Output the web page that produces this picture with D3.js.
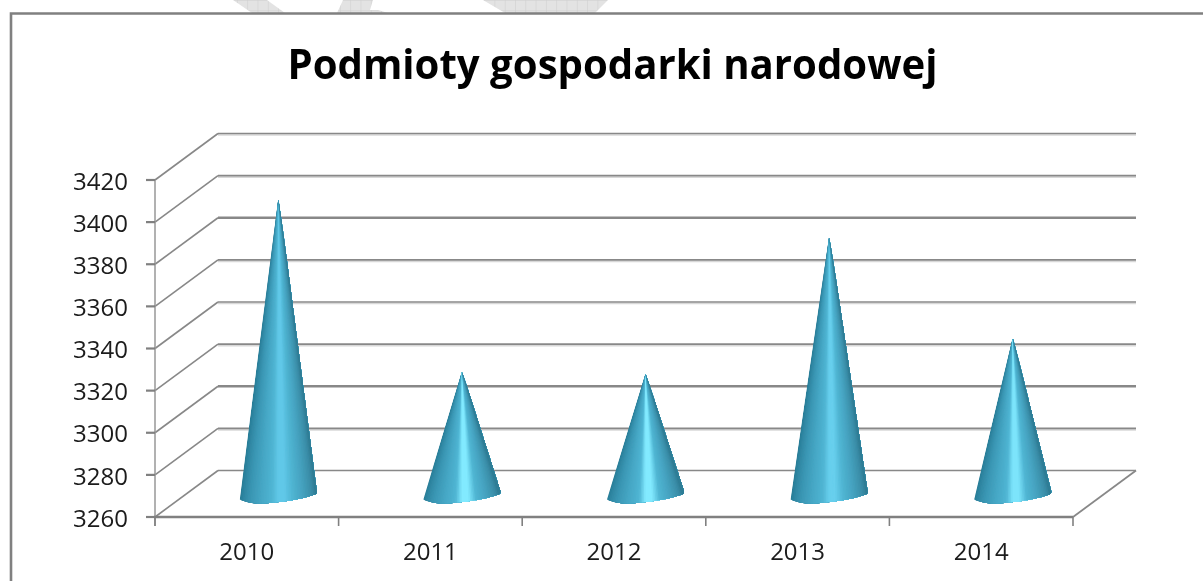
<!DOCTYPE html>
<html><head><meta charset="utf-8">
<script src="https://cdn.jsdelivr.net/npm/d3@7"></script>
<style>html,body{margin:0;padding:0;background:#fff;overflow:hidden}svg{display:block}text{font-family:"Open Sans",sans-serif}</style>
</head><body><svg id="c" width="1203" height="581"></svg>
<script>
const categories = ["2010","2011","2012","2013","2014"];
const values = [3401, 3319, 3318, 3383, 3335];
const yTicks = [3260,3280,3300,3320,3340,3360,3380,3400,3420];
const title = "Podmioty gospodarki narodowej";

const W=1203,H=581;
const svg=d3.select("#c");
const defs=svg.append("defs");
defs.append("filter").attr("id","soft")
  .attr("filterUnits","userSpaceOnUse").attr("x",0).attr("y",0).attr("width",W).attr("height",H)
  .append("feGaussianBlur").attr("stdDeviation",0.45);
const root=svg.append("g").attr("filter","url(#soft)");
root.append("rect").attr("width",W).attr("height",H).attr("fill","#fff");

const x0=155,x1=1073,dx=63,dy=-46.5;
const y=d3.scaleLinear().domain([3260,3420]).range([517,180]);
const x=d3.scaleBand().domain(categories).range([x0,x1]);
const coneDX=31.5,coneDY=-20,halfW=38.5;

// Background watermark showing above the frame
const pat=defs.append("pattern").attr("id","hatch").attr("patternUnits","userSpaceOnUse").attr("width",10.3).attr("height",10.3);
pat.append("rect").attr("width",10.3).attr("height",10.3).attr("fill","#e3e3e3");
pat.append("path").attr("d","M0 0H10.3M0 0V10.3").attr("stroke","#cdcdcd").attr("stroke-width",1);
const line=d3.line();
[[[233,0],[252,13],[285,13],[267,0]],
 [[343,0],[337,13],[388,13],[378,10],[370,10],[373,0]],
 [[483,0],[505,13],[595,13],[608,0]]].forEach(p=>{
  root.append("path").attr("d",line(p)+"Z").attr("fill","url(#hatch)");
});

// Frame (top + left edges visible)
root.append("path").attr("d",`M11 ${H}V13.5H${W}`).attr("fill","none").attr("stroke","#808080").attr("stroke-width",2.6);

// Title
root.append("text").attr("x",612.5).attr("y",79).attr("text-anchor","middle")
  .attr("font-size",41).attr("font-weight",700).attr("fill","#000")
  .attr("textLength",650).attr("lengthAdjust","spacingAndGlyphs").text(title);

const g=root.append("g");
const gridStroke="#888888";

// Gridlines: back wall + left wall
yTicks.forEach(t=>{
  const yy=y(t);
  const heavy=(t===3380||t===3300);
  if(t!==3260&&!heavy){
    g.append("line").attr("x1",x0+dx).attr("x2",x1+dx).attr("y1",yy+dy+1.5).attr("y2",yy+dy+1.5).attr("stroke","#d8d8d8").attr("stroke-width",1.6);
  }
  g.append("line").attr("x1",x0+dx).attr("x2",x1+dx).attr("y1",yy+dy).attr("y2",yy+dy).attr("stroke",gridStroke).attr("stroke-width",heavy?2.4:1.6);
  g.append("line").attr("x1",x0).attr("x2",x0+dx).attr("y1",yy).attr("y2",yy+dy).attr("stroke",gridStroke).attr("stroke-width",1.6);
});
// Floor right edge
g.append("line").attr("x1",x1).attr("x2",x1+dx).attr("y1",y(3260)).attr("y2",y(3260)+dy).attr("stroke",gridStroke).attr("stroke-width",1.8);
// Vertical axis + ticks
g.append("line").attr("x1",x0).attr("x2",x0).attr("y1",y(3420)).attr("y2",y(3260)+9).attr("stroke","#979797").attr("stroke-width",1.5);
yTicks.forEach(t=>{
  g.append("line").attr("x1",x0-9).attr("x2",x0).attr("y1",y(t)).attr("y2",y(t)).attr("stroke","#808080").attr("stroke-width",2.2);
  g.append("text").attr("x",128).attr("y",y(t)+1).attr("dy","0.36em").attr("text-anchor","end")
    .attr("font-size",24).attr("fill","#1a1a1a").text(t);
});
// Horizontal axis + ticks
g.append("line").attr("x1",x0-1).attr("x2",x1).attr("y1",y(3260)).attr("y2",y(3260)).attr("stroke","#808080").attr("stroke-width",2.6);
[...categories.map(c=>x(c)),x1].forEach(v=>{
  g.append("line").attr("x1",v).attr("x2",v).attr("y1",y(3260)).attr("y2",y(3260)+9).attr("stroke","#808080").attr("stroke-width",1.6);
});
categories.forEach(c=>{
  g.append("text").attr("x",x(c)+x.bandwidth()/2).attr("y",560).attr("text-anchor","middle")
    .attr("font-size",24).attr("fill","#1a1a1a").text(c);
});

// Cones: shaded as wedges converging on the apex, painted left to right
const glow=d3.scaleLinear().domain([3320,3400]).range(["#82eaff","#60c8e8"]).clamp(true);
const N=48;
categories.forEach((c,i)=>{
  const cx=x(c)+x.bandwidth()/2+coneDX;
  const v=values[i];
  const apex=y(v)+coneDY;
  const shade=d3.scaleLinear()
    .domain([0,0.05,0.14,0.3,0.42,0.5,0.58,0.68,0.82,0.94,1])
    .range(["#277a94","#2f86a2","#3a96b3","#47a9c7","#50b5d3",glow(v),glow(v),"#50b5d3","#45a2bf","#3a8da8","#2d7a92"]);
  const lx=cx-halfW,rx=cx+halfW,base=y(3260)+coneDY;
  const ly=base+0.5,ry=base-6;
  const d=`M${cx-0.8} ${apex}L${cx+0.8} ${apex}L${rx} ${ry}Q${rx+0.5} ${ry+3} ${rx-2} ${ry+3.5}`
    +`C${rx-18} ${ry+10} ${cx-14} ${base+7} ${cx-22} ${base+6.5}`
    +`C${lx+12} ${base+6} ${lx+2} ${base+4} ${lx} ${ly+2}Z`;
  defs.append("clipPath").attr("id","clip"+i).append("path").attr("d",d);
  const cone=g.append("g").attr("clip-path",`url(#clip${i})`);
  const scaleAt=(base+12-apex)/(base-apex);
  d3.range(N).forEach(k=>{
    const a=cx+(-halfW+2*halfW*k/N)*scaleAt;
    const b=cx+(halfW+6)*scaleAt;
    cone.append("path").attr("d",`M${cx} ${apex-1}L${a} ${base+12}L${b} ${base+12}Z`).attr("fill",shade((k+0.5)/N));
  });
});
</script></body></html>
